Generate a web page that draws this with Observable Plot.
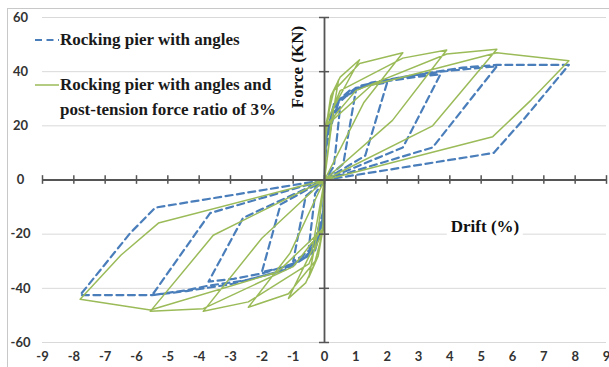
<!DOCTYPE html>
<html>
<head>
<meta charset="utf-8">
<script src="https://cdn.jsdelivr.net/npm/d3@7"></script>
<script src="https://cdn.jsdelivr.net/npm/@observablehq/plot@0.6"></script>
<style>
  html, body { margin: 0; padding: 0; background: #fff; overflow: hidden; }
  #wrap { position: relative; width: 609px; height: 367px; }
  #frame { position: absolute; left: 7px; top: 8px; width: 640px; height: 400px; border: 1px solid #c8c8c8; pointer-events: none; }
  .lg { position: absolute; font-family: "Liberation Serif", "Times New Roman", serif; font-weight: bold; font-size: 17px; color: #1a1a1a; white-space: nowrap; line-height: 25px; }
  .ttl { position: absolute; font-family: "Liberation Serif", "Times New Roman", serif; font-weight: bold; font-size: 17px; color: #111; white-space: nowrap; }
</style>
</head>
<body>
<div id="wrap"></div>
<script>
// Series 1: Rocking pier with angles (drift %, force kN)
const blueDrift = [
  0, 0.05, 0.3, 0.5, 0.3, 0, -0.05, -0.3, -0.5, -0.3, 0,
  0.05, 0.3, 0.7, 1.0, 0.6, 0, -0.05, -0.3, -0.7, -1.0, -0.6, 0,
  0.05, 0.3, 0.8, 1.4, 2.0, 1.3, 0, -0.05, -0.3, -0.8, -1.4, -2.0, -1.4, 0,
  0.05, 0.3, 1.0, 2.0, 2.9, 3.7, 2.5, 0, -0.05, -0.3, -1.0, -2.0, -2.9, -3.7, -2.6, 0,
  0.05, 0.4, 1.2, 2.5, 3.7, 4.4, 5.5, 3.45, 0, -0.05, -0.4, -1.2, -2.5, -3.7, -4.4, -5.5, -3.65, 0,
  0.05, 0.5, 1.5, 3.0, 4.4, 5.5, 7.8, 6.4, 5.4, 0, -0.05, -0.5, -1.5, -3.0, -4.4, -5.5, -7.8, -6.2, -5.4, 0
];
const blueForce = [
  0, 12, 24, 27, 5, 0, -12, -22, -25, -5, 0,
  15, 27, 31, 33, 6, 0, -14, -24, -28, -30, -6, 0,
  16, 28, 33, 35, 36, 9, 0, -14, -25, -30, -32.5, -34, -9, 0,
  16, 28, 34, 36.5, 38, 39, 12, 0, -15, -26, -31, -34.5, -36.5, -37.5, -14, 0,
  16, 29, 35, 38, 40, 40.8, 42, 12, 0, -15, -27, -33, -37, -39, -40.7, -42.5, -12.2, 0,
  16, 30, 36, 39, 41.5, 42.5, 42.5, 23, 10, 0, -15, -28, -34, -38.5, -41, -42.5, -42.5, -19.6, -10.2, 0
];

// Series 2: Rocking pier with angles and post-tension force ratio of 3%
const greenDrift = [
  0, 0.03, 0.2, 0.45, 0.2, 0, -0.03, -0.2, -0.5, -0.2, 0,
  0.03, 0.2, 0.5, 1.12, 0.3, 0, -0.03, -0.2, -0.6, -1.15, -0.4, 0,
  0.03, 0.3, 1.12, 2.5, 1.25, 0, -0.03, -0.3, -1.15, -2.43, -1.1, 0,
  0.03, 0.5, 2.5, 3.9, 2.17, 0, -0.03, -0.5, -2.43, -3.87, -2.0, 0,
  0.05, 1.0, 3.9, 5.5, 3.45, 0, -0.05, -1.0, -3.87, -5.56, -3.55, 0,
  0.05, 1.5, 5.5, 7.8, 6.6, 5.37, 0, -0.05, -1.5, -5.56, -7.8, -6.5, -5.3, 0
];
const greenForce = [
  0, 15, 30, 37, 20, 0, -15, -28, -36, -18, 0,
  18, 31, 38, 44.4, 27, 0, -17, -28, -38, -43.7, -26, 0,
  20, 33, 43, 47, 28.5, 0, -18, -30, -42, -47, -27, 0,
  20, 33, 45, 48, 22, 0, -18, -31, -45, -48.5, -21.5, 0,
  20, 33, 46.5, 48.3, 20, 0, -18, -32, -47.5, -48.5, -20.4, 0,
  20, 35, 47, 44, 29.6, 16, 0, -18, -34, -48, -44, -27.8, -15.9, 0
];

const xTicks = [-9, -8, -7, -6, -5, -4, -3, -2, -1, 0, 1, 2, 3, 4, 5, 6, 7, 8, 9];
const yTicks = [-60, -40, -20, 0, 20, 40, 60];
const gridVals = [-60, -40, -20, 20, 40, 60];

const blue = blueDrift.map((d, i) => ({d, f: blueForce[i]}));
const green = greenDrift.map((d, i) => ({d, f: greenForce[i]}));

const labelStyle = {fontFamily: "Lato, 'Open Sans', sans-serif", fontWeight: "bold", fontSize: 13, fill: "#333"};

const chart = Plot.plot({
  width: 609,
  height: 367,
  marginLeft: 42,
  marginRight: 3,
  marginTop: 17,
  marginBottom: 25,
  x: {domain: [-9, 9], axis: null},
  y: {domain: [-60, 60], axis: null},
  style: {background: "transparent"},
  marks: [
    Plot.ruleY(gridVals, {stroke: "#d9d9d9", strokeWidth: 1}),
    Plot.line(blue, {x: "d", y: "f", stroke: "#4a7ebb", strokeWidth: 2.2, strokeDasharray: "7,4.5", curve: "linear"}),
    Plot.line(green, {x: "d", y: "f", stroke: "#9bbb59", strokeWidth: 1.5, curve: "linear"}),
    Plot.ruleY([0], {stroke: "#555", strokeWidth: 1.8}),
    Plot.ruleX([0], {y1: -60, y2: 60, stroke: "#555", strokeWidth: 1.8}),
    Plot.ruleX(xTicks, {y1: -1.6, y2: 1.6, stroke: "#555", strokeWidth: 1.5}),
    Plot.ruleY(yTicks, {x1: -0.16, x2: 0.16, stroke: "#555", strokeWidth: 1.5}),
    Plot.text(xTicks, {x: d => d, frameAnchor: "bottom", dy: 18, text: d => String(d), ...labelStyle}),
    Plot.text(yTicks, {y: d => d, frameAnchor: "left", dx: -22, textAnchor: "middle", text: d => String(d), ...labelStyle})
  ]
});

const wrap = document.getElementById("wrap");
wrap.appendChild(chart);

const frame = document.createElement("div");
frame.id = "frame";
wrap.appendChild(frame);

function addHTML(html) {
  const t = document.createElement("div");
  t.innerHTML = html;
  while (t.firstChild) wrap.appendChild(t.firstChild);
}

// Legend
addHTML(`<svg style="position:absolute;left:33px;top:34px" width="28" height="12"><line x1="2" y1="6" x2="26" y2="6" stroke="#4a7ebb" stroke-width="2.2" stroke-dasharray="7,4.5"/></svg>`);
addHTML(`<div class="lg" style="left:60px;top:27px">Rocking pier with angles</div>`);
addHTML(`<svg style="position:absolute;left:33px;top:79px" width="28" height="12"><line x1="2" y1="6" x2="26" y2="6" stroke="#9bbb59" stroke-width="1.5"/></svg>`);
addHTML(`<div class="lg" style="left:60px;top:72px">Rocking pier with angles and<br>post-tension force ratio of 3%</div>`);

// Axis titles
addHTML(`<div class="ttl" style="left:298px;top:67px;transform:translate(-50%,-50%) rotate(-90deg)">Force (KN)</div>`);
addHTML(`<div class="ttl" style="left:485px;top:227px;transform:translate(-50%,-50%);background:#fff;padding:0 4px">Drift (%)</div>`);
</script>
</body>
</html>
